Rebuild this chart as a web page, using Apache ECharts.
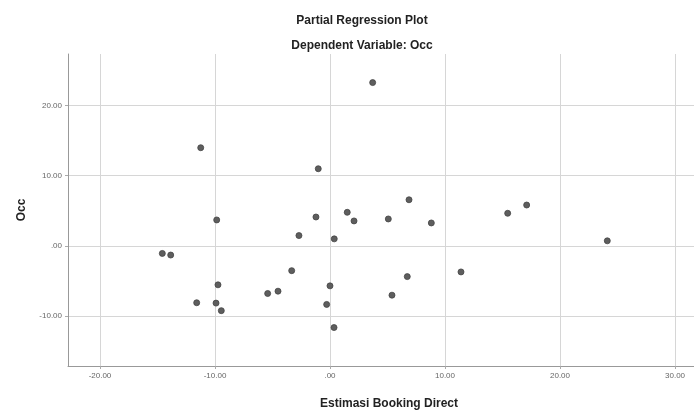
<!DOCTYPE html>
<html>
<head>
<meta charset="utf-8">
<script src="https://cdn.jsdelivr.net/npm/echarts@6/dist/echarts.min.js"></script>
<style>
  html, body { margin: 0; padding: 0; background: #fff; }
  #chart { width: 694px; height: 415px; }
</style>
</head>
<body>
<div id="chart"></div>
<script>
// partial regression residuals
const xVals = [3.71, -11.24, -1.02, -9.85, -1.22, 1.50, 2.09, 5.07, -2.70, 0.37,
  -14.58, -13.85, -3.33, -9.74, 0.00, -5.42, -4.52, 5.39, -11.59, -9.91,
  -9.45, -0.29, 0.35, 6.87, 8.81, 15.45, 17.10, 24.11, 11.39, 6.72];
const yVals = [23.3, 14.0, 11.0, 3.69, 4.11, 4.78, 3.55, 3.83, 1.46, 0.99,
  -1.09, -1.32, -3.55, -5.57, -5.72, -6.81, -6.48, -7.05, -8.13, -8.18,
  -9.26, -8.37, -11.67, 6.57, 3.26, 4.64, 5.82, 0.71, -3.73, -4.40];
const xTicks = [-20, -10, 0, 10, 20, 30];
const yTicks = [-10, 0, 10, 20];

var points = xVals.map((x, i) => [x, yVals[i]]);

// SPSS style: 2 decimals, no leading zero for 0
function fmt(v) {
  var s = Number(v).toFixed(2);
  return s === '0.00' || s === '-0.00' ? '.00' : s;
}

var chart = echarts.init(document.getElementById('chart'));
chart.setOption({
  backgroundColor: '#fff',
  animation: false,
  title: [{
    text: 'Partial Regression Plot',
    left: 357,
    top: 10,
    textAlign: 'center',
    textStyle: { fontFamily: 'Liberation Sans', fontSize: 12, fontWeight: 'bold', color: '#222' }
  }, {
    text: 'Dependent Variable: Occ',
    left: 357,
    top: 35,
    textAlign: 'center',
    textStyle: { fontFamily: 'Liberation Sans', fontSize: 12, fontWeight: 'bold', color: '#222' }
  }],
  grid: {
    left: 68,
    right: 0,
    top: 54,
    bottom: 47
  },
  xAxis: {
    type: 'value',
    min: -22.78,
    max: 31.65,
    name: 'Estimasi Booking Direct',
    nameLocation: 'middle',
    nameGap: 32,
    nameTextStyle: { fontFamily: 'Liberation Sans', fontSize: 12, fontWeight: 'bold', color: '#222', padding: [0, 0, 0, 16] },
    axisLine: { show: true, onZero: false, lineStyle: { color: '#999', width: 1 } },
    axisTick: { show: true, length: 3, customValues: xTicks, lineStyle: { color: '#aaa' } },
    axisLabel: {
      customValues: xTicks,
      formatter: fmt,
      fontFamily: 'Liberation Sans',
      fontSize: 8,
      color: '#666',
      margin: 6
    },
    splitLine: { show: true, lineStyle: { color: '#d6d6d6', width: 1 } }
  },
  yAxis: {
    type: 'value',
    min: -17.16,
    max: 27.38,
    name: 'Occ',
    nameLocation: 'middle',
    nameGap: 40,
    nameRotate: 90,
    nameTextStyle: { fontFamily: 'Liberation Sans', fontSize: 12, fontWeight: 'bold', color: '#222' },
    axisLine: { show: true, onZero: false, lineStyle: { color: '#999', width: 1 } },
    axisTick: { show: true, length: 3, customValues: yTicks, lineStyle: { color: '#aaa' } },
    axisLabel: {
      customValues: yTicks,
      formatter: fmt,
      fontFamily: 'Liberation Sans',
      fontSize: 8,
      color: '#666',
      margin: 6
    },
    splitLine: { show: true, lineStyle: { color: '#d6d6d6', width: 1 } }
  },
  series: [{
    type: 'scatter',
    data: points,
    symbol: 'circle',
    symbolSize: 6,
    itemStyle: { color: '#5e5e5e', borderColor: '#444', borderWidth: 0.8, opacity: 1 }
  }]
});
</script>
</body>
</html>
